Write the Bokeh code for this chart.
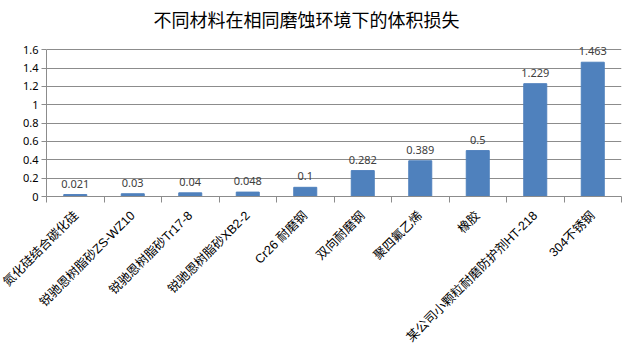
import math
from bokeh.plotting import figure
from bokeh.models import ColumnDataSource, FixedTicker, NumeralTickFormatter, Range1d, LabelSet
from bokeh.core.properties import value
from bokeh.embed import file_html
from bokeh.resources import INLINE

categories = ["氮化硅结合碳化硅", "锐驰恩树脂砂ZS-WZ10", "锐驰恩树脂砂Tr17-8", "锐驰恩树脂砂XB2-2",
              "Cr26 耐磨钢", "双向耐磨钢", "聚四氟乙烯", "橡胶", "某公司小颗粒耐磨防护剂HT-218", "304不锈钢"]
values = [0.021, 0.03, 0.04, 0.048, 0.1, 0.282, 0.389, 0.5, 1.229, 1.463]
value_labels = ["0.021", "0.03", "0.04", "0.048", "0.1", "0.282", "0.389", "0.5", "1.229", "1.463"]
y_ticks = [0, 0.2, 0.4, 0.6, 0.8, 1.0, 1.2, 1.4, 1.6]
title_text = "不同材料在相同磨蚀环境下的体积损失"

n = len(categories)
centers = [i + 0.5 for i in range(n)]
src = ColumnDataSource(dict(x=centers, top=values, label=value_labels))

p = figure(width=635, height=354, output_backend="svg", toolbar_location=None,
           x_range=Range1d(0, n), y_range=Range1d(0, 1.765),
           min_border_left=46, min_border_right=14, min_border_bottom=158, min_border_top=30)

p.title.text = title_text
p.title.align = "left"
p.title.offset = 107
p.title.standoff = 6
p.title.text_font = "Noto Sans CJK SC"
p.title.text_font_size = "18px"
p.title.text_font_style = "normal"
p.title.text_color = "#000000"

p.vbar(x="x", top="top", width=0.4, source=src, color="#4F81BD")
labels = LabelSet(x="x", y="top", text="label", source=src, text_align="center", text_baseline="bottom",
                  y_offset=7, text_font=value("Noto Sans"), text_font_size=value("11px"),
                  text_color=value("#404040"))
p.add_layout(labels)

p.outline_line_color = None
p.xgrid.grid_line_color = None
p.ygrid.grid_line_color = "#8c8c8c"
p.ygrid.grid_line_width = 1

p.xaxis.ticker = FixedTicker(ticks=centers, minor_ticks=list(range(n + 1)))
p.xaxis.major_label_overrides = {c: lab for c, lab in zip(centers, categories)}
p.xaxis.major_tick_out = 0
p.xaxis.major_tick_in = 0
p.xaxis.minor_tick_out = 6
p.xaxis.minor_tick_in = 0
p.xaxis.minor_tick_line_color = "#8c8c8c"
p.xaxis.axis_line_color = "#8c8c8c"
p.xaxis.major_label_orientation = math.pi / 4
p.xaxis.major_label_text_font = "Liberation Sans, Noto Sans CJK SC"
p.xaxis.major_label_text_font_size = "12.5px"
p.xaxis.major_label_text_color = "#000000"
p.xaxis.major_label_standoff = 11

p.yaxis.ticker = FixedTicker(ticks=y_ticks, minor_ticks=[])
p.yaxis.bounds = (0, 1.6)
p.yaxis.formatter = NumeralTickFormatter(format="0.[0]")
p.yaxis.major_tick_out = 5
p.yaxis.major_tick_in = 0
p.yaxis.minor_tick_out = 0
p.yaxis.major_tick_line_color = "#8c8c8c"
p.yaxis.axis_line_color = "#8c8c8c"
p.yaxis.major_label_text_font = "Noto Sans"
p.yaxis.major_label_text_font_size = "11px"
p.yaxis.major_label_text_color = "#000000"
p.yaxis.major_label_standoff = 3

open("out.html", "w").write(file_html(p, INLINE))
